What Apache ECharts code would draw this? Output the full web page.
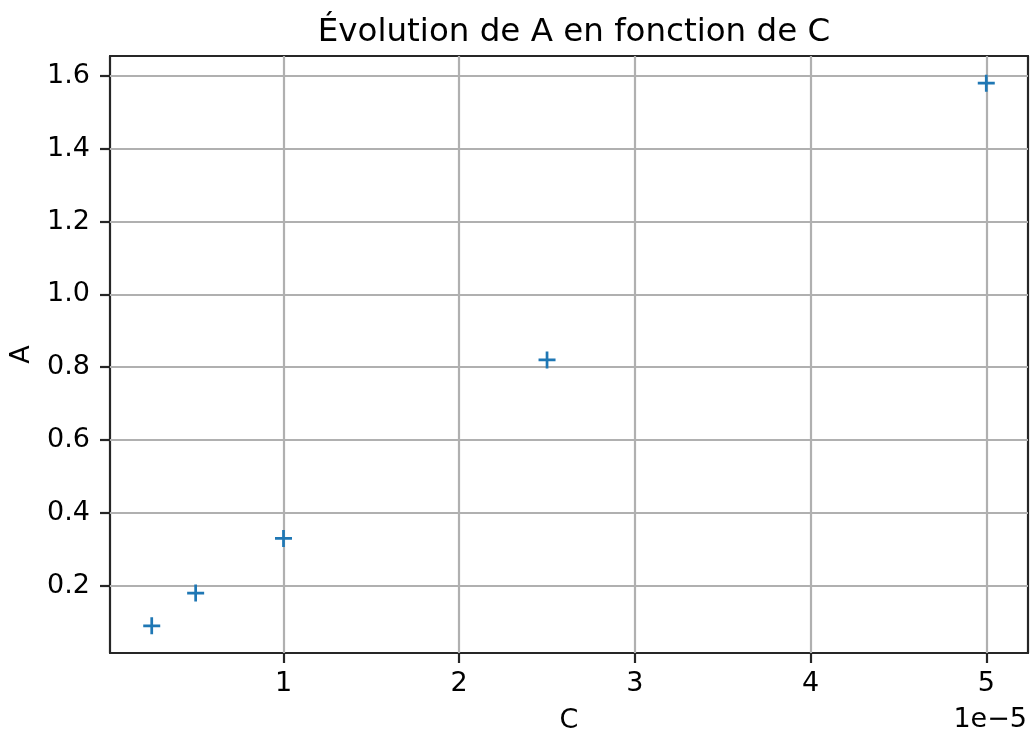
<!DOCTYPE html>
<html>
<head>
<meta charset="utf-8">
<script src="https://cdn.jsdelivr.net/npm/echarts@6/dist/echarts.min.js"></script>
<style>html,body{margin:0;padding:0;background:#fff}#c{width:1032px;height:735px}</style>
</head>
<body>
<div id="c"></div>
<script>
// Data (C in units of 1e-5)
const cValues = [0.25, 0.5, 1, 2.5, 5];
const aValues = [0.09, 0.18, 0.33, 0.82, 1.58];
const xTicks = [1, 2, 3, 4, 5];
const yTicks = [0.2, 0.4, 0.6, 0.8, 1.0, 1.2, 1.4, 1.6];
const titleText = 'Évolution de A en fonction de C';
const xLabel = 'C';
const yLabel = 'A';
const offsetText = '1e\u22125';

const font = 'DejaVu Sans';
const xMin = 0.0125, xMax = 5.2375;
const yMin = 0.0155, yMax = 1.6545;

const chart = echarts.init(document.getElementById('c'));
const plusPath = 'path://M0,4.2 L10,4.2 L10,5.8 L0,5.8 Z M4.2,0 L5.8,0 L5.8,10 L4.2,10 Z';

const gridMarks = [];
xTicks.forEach(v => gridMarks.push({ xAxis: v }));
yTicks.forEach(v => gridMarks.push({ yAxis: v }));

const axisLineStyle = { color: '#262626', width: 2.2 };
const tickStyle = { color: '#262626', width: 2.2 };
const fs = 27;

chart.setOption({
  animation: false,
  title: {
    text: titleText, left: 569, top: 11, textAlign: 'center',
    textStyle: { fontFamily: font, fontSize: 32.5, fontWeight: 'normal', color: '#000' }
  },
  grid: { left: 110, right: 4, top: 56, bottom: 82, containLabel: false, outerBoundsMode: 'none' },
  xAxis: [{
    type: 'value', min: xMin, max: xMax, position: 'bottom',
    axisLine: { show: true, onZero: false, lineStyle: axisLineStyle },
    axisTick: { show: true, length: 10, inside: false, customValues: xTicks, lineStyle: tickStyle },
    axisLabel: { show: true, customValues: xTicks, margin: 17, fontFamily: font, fontSize: fs, color: '#000',
      formatter: v => String(Math.round(v)) },
    splitLine: { show: false },
    name: xLabel, nameLocation: 'middle', nameGap: 54,
    nameTextStyle: { fontFamily: font, fontSize: fs, color: '#000' }
  }, {
    type: 'value', min: xMin, max: xMax, position: 'top',
    axisLine: { show: true, onZero: false, lineStyle: axisLineStyle },
    axisTick: { show: false }, axisLabel: { show: false }, splitLine: { show: false }
  }],
  yAxis: [{
    type: 'value', min: yMin, max: yMax, position: 'left',
    axisLine: { show: true, onZero: false, lineStyle: axisLineStyle },
    axisTick: { show: true, length: 10, inside: false, customValues: yTicks, lineStyle: tickStyle },
    axisLabel: { show: true, customValues: yTicks, margin: 20, fontFamily: font, fontSize: fs, color: '#000',
      formatter: v => v.toFixed(1) },
    splitLine: { show: false },
    name: yLabel, nameLocation: 'middle', nameGap: 75, nameRotate: 90,
    nameTextStyle: { fontFamily: font, fontSize: fs, color: '#000' }
  }, {
    type: 'value', min: yMin, max: yMax, position: 'right',
    axisLine: { show: true, onZero: false, lineStyle: axisLineStyle },
    axisTick: { show: false }, axisLabel: { show: false }, splitLine: { show: false }
  }],
  graphic: [{
    type: 'text', x: 1027, y: 720,
    style: { text: offsetText, fontFamily: font, fontSize: fs, fill: '#000', align: 'right', verticalAlign: 'middle' }
  }],
  series: [{
    type: 'scatter',
    data: cValues.map((c, i) => [c, aValues[i]]),
    symbol: plusPath, symbolSize: 17,
    itemStyle: { color: '#1f77b4', opacity: 1 },
    z: 5,
    markLine: {
      silent: true, symbol: ['none', 'none'], animation: false,
      label: { show: false },
      lineStyle: { color: '#b0b0b0', width: 2.2, type: 'solid' },
      emphasis: { disabled: true },
      data: gridMarks
    }
  }]
});
</script>
</body>
</html>
